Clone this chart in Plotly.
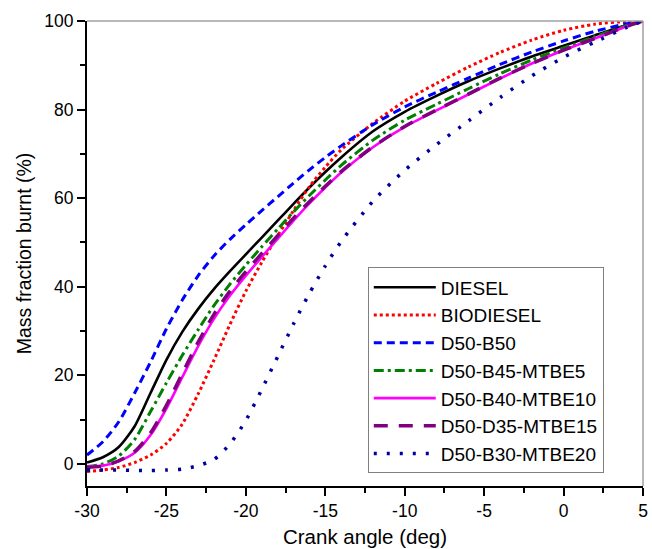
import plotly.graph_objects as go

crank_angle = [-30, -29, -28, -27, -26, -25, -24, -23, -22, -21, -20, -19, -18, -17, -16, -15, -14,
               -12, -10, -8, -6, -4, -2, 0, 2, 4, 5]

diesel = [0.3, 1.5, 3.8, 8.5, 16, 23.5, 29.8, 35, 39.5, 43.5, 47.3, 51.1, 54.9, 58.7, 62.4, 65.9, 69.2,
          75.1, 79.5, 83.1, 86.4, 89.3, 92, 94.4, 96.8, 99.1, 100]
biodiesel = [-1.7, -1.4, -0.8, 0.3, 2, 4.6, 9, 15.8, 23.5, 31.5, 39, 45.5, 51.5, 57.2, 62.6, 67, 70.9,
             76.9, 81.9, 85.9, 89.6, 92.9, 95.7, 97.9, 99.3, 99.9, 100]
d50_b50 = [2, 5, 9.5, 16, 23, 30.5, 37, 42.5, 47, 50.7, 54, 57.2, 60.3, 63.4, 66.4, 69.2, 71.8,
           76.6, 80.6, 83.9, 87.1, 90.2, 93, 95.5, 97.7, 99.4, 100]
d50_b45_mtbe5 = [-0.6, 0, 1.8, 5.5, 11.8, 18.3, 24.5, 30.3, 35.8, 40.6, 44.9, 49, 53, 56.9, 60.6, 64.1, 67.4,
                 73.1, 77.6, 81.2, 84.7, 88.1, 91.2, 93.9, 96.5, 99, 100]
d50_b40_mtbe10 = [-0.6, -0.4, 0.6, 2.5, 6.5, 12.5, 19.6, 26.6, 32.8, 38, 42.5, 46.7, 50.8, 54.9, 58.8, 62.4, 65.8,
                  71.5, 76.1, 79.8, 83.4, 87, 90.4, 93.4, 96.1, 98.8, 100]
d50_d35_mtbe15 = [-0.8, -0.5, 0.7, 2.8, 7, 13.2, 20.4, 27.5, 33.8, 39, 43.4, 47.5, 51.5, 55.5, 59.2, 62.7, 66,
                  71.6, 76.2, 79.9, 83.5, 87.1, 90.4, 93.4, 96.1, 98.8, 100]
d50_b30_mtbe20 = [-1.4, -1.4, -1.4, -1.5, -1.5, -1.4, -1.2, -0.4, 1, 4.5, 9.8, 16.8, 24.2, 31.6, 38.5, 44.7, 50.2,
                  59.3, 66.3, 72.1, 77.4, 82.7, 87.6, 91.8, 95.3, 98.6, 100]

series_names = ["DIESEL", "BIODIESEL", "D50-B50", "D50-B45-MTBE5",
                "D50-B40-MTBE10", "D50-D35-MTBE15", "D50-B30-MTBE20"]
series_values = [diesel, biodiesel, d50_b50, d50_b45_mtbe5,
                 d50_b40_mtbe10, d50_d35_mtbe15, d50_b30_mtbe20]

x_ticks = [-30, -25, -20, -15, -10, -5, 0, 5]
y_ticks = [0, 20, 40, 60, 80, 100]

styles = [
    dict(color="#000000", width=2.6, dash="solid"),
    dict(color="#ff0000", width=3, dash="dot"),
    dict(color="#0000ff", width=3, dash="8px,5px"),
    dict(color="#008000", width=3, dash="10px,4px,3px,4px"),
    dict(color="#ff00ff", width=2.6, dash="solid"),
    dict(color="#800080", width=3.5, dash="14px,11px"),
    dict(color="#00009c", width=3.5, dash="3px,10px"),
]

fig = go.Figure()
for name, vals, st in zip(series_names, series_values, styles):
    fig.add_trace(go.Scatter(x=crank_angle, y=vals, mode="lines", name=name,
                             line=dict(shape="spline", smoothing=0.7, **st)))

font_family = "Liberation Sans, Arial, sans-serif"
fig.update_layout(
    width=652, height=549,
    margin=dict(l=87, r=9, t=21, b=63, autoexpand=False),
    paper_bgcolor="white", plot_bgcolor="white",
    font=dict(family=font_family, color="black", size=17),
    showlegend=True,
    legend=dict(x=0.505, y=0.47, xanchor="left", yanchor="top",
                bgcolor="white", bordercolor="#808080", borderwidth=1,
                font=dict(size=19, family=font_family), itemwidth=62,
                tracegroupgap=0),
    xaxis=dict(range=[-30, 5], tickvals=x_ticks, ticktext=[str(v) for v in x_ticks],
               automargin=False,
               showgrid=False, zeroline=False, showline=True, linecolor="black", linewidth=2,
               ticks="outside", ticklen=8, tickwidth=1.5, tickcolor="black",
               minor=dict(ticks="outside", ticklen=5, tickwidth=1.5, tickcolor="black", dtick=2.5, showgrid=False),
               tickfont=dict(size=17.5),
               title=dict(text="Crank angle (deg)", font=dict(size=20.5), standoff=10)),
    yaxis=dict(range=[-5, 100], tickvals=y_ticks, ticktext=[str(v) for v in y_ticks],
               automargin=False,
               showgrid=False, zeroline=False, showline=True, linecolor="black", linewidth=2,
               ticks="outside", ticklen=8, tickwidth=1.5, tickcolor="black",
               minor=dict(ticks="outside", ticklen=5, tickwidth=1.5, tickcolor="black", dtick=10, showgrid=False),
               tickfont=dict(size=17.5),
               title=dict(text="Mass fraction burnt (%)", font=dict(size=19.5), standoff=7)),
    shapes=[
        dict(type="line", xref="paper", yref="paper", x0=0, x1=1, y0=1, y1=1,
             line=dict(color="#a0a0a0", width=1.5)),
        dict(type="line", xref="paper", yref="paper", x0=1, x1=1, y0=0, y1=1,
             line=dict(color="#a0a0a0", width=1.5)),
    ],
)

fig.write_html("out.html", config={"displayModeBar": False},
               post_script="document.body.style.margin='0';document.body.style.padding='0';document.body.style.overflow='hidden';")
